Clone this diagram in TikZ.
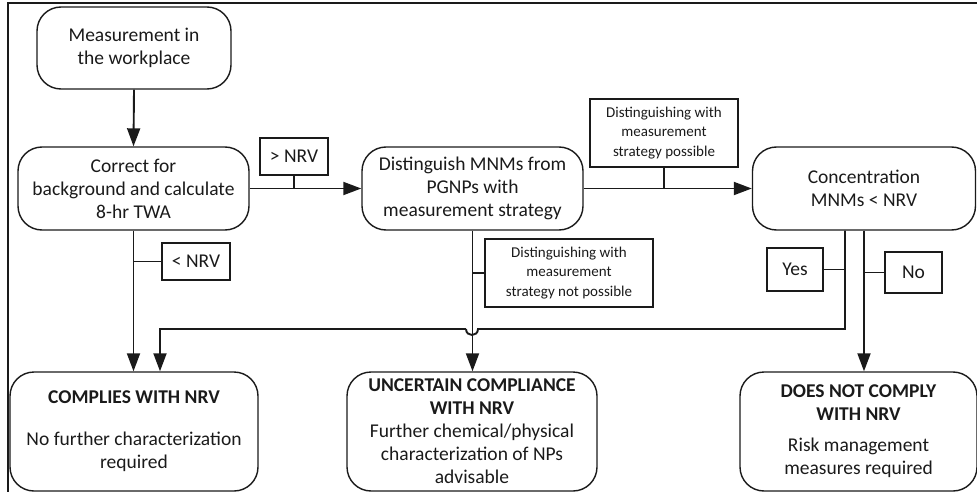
\documentclass[tikz,border=0pt]{standalone}
\usepackage{fontspec}
\setmainfont{Carlito}
\usetikzlibrary{arrows.meta}
\definecolor{ink}{HTML}{1A1A1A}
\tikzset{
  rbox/.style={draw=ink, line width=1.4pt, rounded corners=24pt, align=center, inner sep=0pt, text=ink,
    font=\fontsize{19.5}{23}\selectfont},
  lbox/.style={draw=ink, line width=1.3pt, align=center, inner sep=0pt, text=ink,
    font=\fontsize{19.5}{22}\selectfont},
  sbox/.style={draw=ink, line width=1.3pt, align=center, inner sep=0pt, text=ink,
    font=\fontsize{15}{19.5}\selectfont},
  conn/.style={draw=ink, line width=1.9pt},
  arr/.style={conn, -{Triangle[length=18pt,width=13pt]}},
  tick/.style={draw=ink, line width=1.3pt}
}
\begin{document}
\begin{tikzpicture}[x=1pt,y=-1pt]
\useasboundingbox (0,0) rectangle (977,492);
\draw[ink, line width=1.2pt] (8,3) rectangle (990,505);

% main boxes
\node[rbox, minimum width=194pt, minimum height=82pt] (meas) at (134,48) {Measurement in\\the workplace};
\node[rbox, minimum width=231pt, minimum height=83pt] (corr) at (133.5,188.5) {Correct for\\background and calculate\\8-hr TWA};
\node[rbox, minimum width=221pt, minimum height=83pt] (dist) at (472.5,188.5) {Distinguish MNMs from\\PGNPs with\\measurement strategy};
\node[rbox, minimum width=223pt, minimum height=83pt] (conc) at (864,188.5) {Concentration\\MNMs {<} NRV};
\node[rbox, minimum width=248pt, minimum height=119pt] (comp) at (134,431.5) {\textbf{COMPLIES WITH NRV}\\[19pt]No further characterization\\required};
\node[rbox, minimum width=250pt, minimum height=119pt] (unc) at (472,431.5) {\textbf{UNCERTAIN COMPLIANCE}\\\textbf{WITH NRV}\\Further chemical/physical\\characterization of NPs\\advisable};
\node[rbox, minimum width=237pt, minimum height=119pt] (dnc) at (858.5,431.5) {\textbf{DOES NOT COMPLY}\\\textbf{WITH NRV}\\[8pt]Risk management\\measures required};

% label boxes
\node[lbox, minimum width=68pt, minimum height=37pt] (gt) at (294,156.5) {{>} NRV};
\node[lbox, minimum width=68pt, minimum height=37pt] (lt) at (196,261.5) {{<} NRV};
\node[sbox, minimum width=148pt, minimum height=68pt] (poss) at (664,133) {Distinguishing with\\measurement\\strategy possible};
\node[sbox, minimum width=168pt, minimum height=68pt] (nposs) at (569,273) {Distinguishing with\\measurement\\strategy not possible};
\node[lbox, minimum width=56pt, minimum height=43pt] (yes) at (795,269.5) {Yes};
\node[lbox, minimum width=57pt, minimum height=41pt] (no) at (913.5,272.5) {No};

% bend coordinates
\coordinate (yb) at (845,329);
\coordinate (lb) at (160,329);
\coordinate (hop) at (472,329);

% connectors
\draw[arr] (meas.south) -- (corr.north);
\draw[arr] (corr.east) -- (dist.west);
\draw[arr] (dist.east) -- (conc.west);
\draw[arr] (corr.south) -- (comp.north -| corr.south);
\draw[arr] (dist.south) -- (unc.north -| dist.south);
\draw[arr] (conc.south) -- (dnc.north -| conc.south);
\draw[conn] (conc.south -| yb) -- (yb) -- ([xshift=6pt]hop)
  .. controls ([xshift=6pt,yshift=-8pt]hop) and ([xshift=-6pt,yshift=-8pt]hop) .. ([xshift=-6pt]hop);
\draw[arr] ([xshift=-6pt]hop) -- (lb) -- (comp.north -| lb);

% ticks
\draw[tick] (gt.south) -- (gt.south |- corr.east);
\draw[tick] (lt.west) -- (lt.west -| corr.south);
\draw[tick] (poss.south) -- (poss.south |- dist.east);
\draw[tick] (nposs.west) -- (nposs.west -| dist.south);
\draw[tick] (yes.east) -- (yes.east -| yb);
\draw[tick] (no.west) -- (no.west -| conc.south);
\end{tikzpicture}
\end{document}
